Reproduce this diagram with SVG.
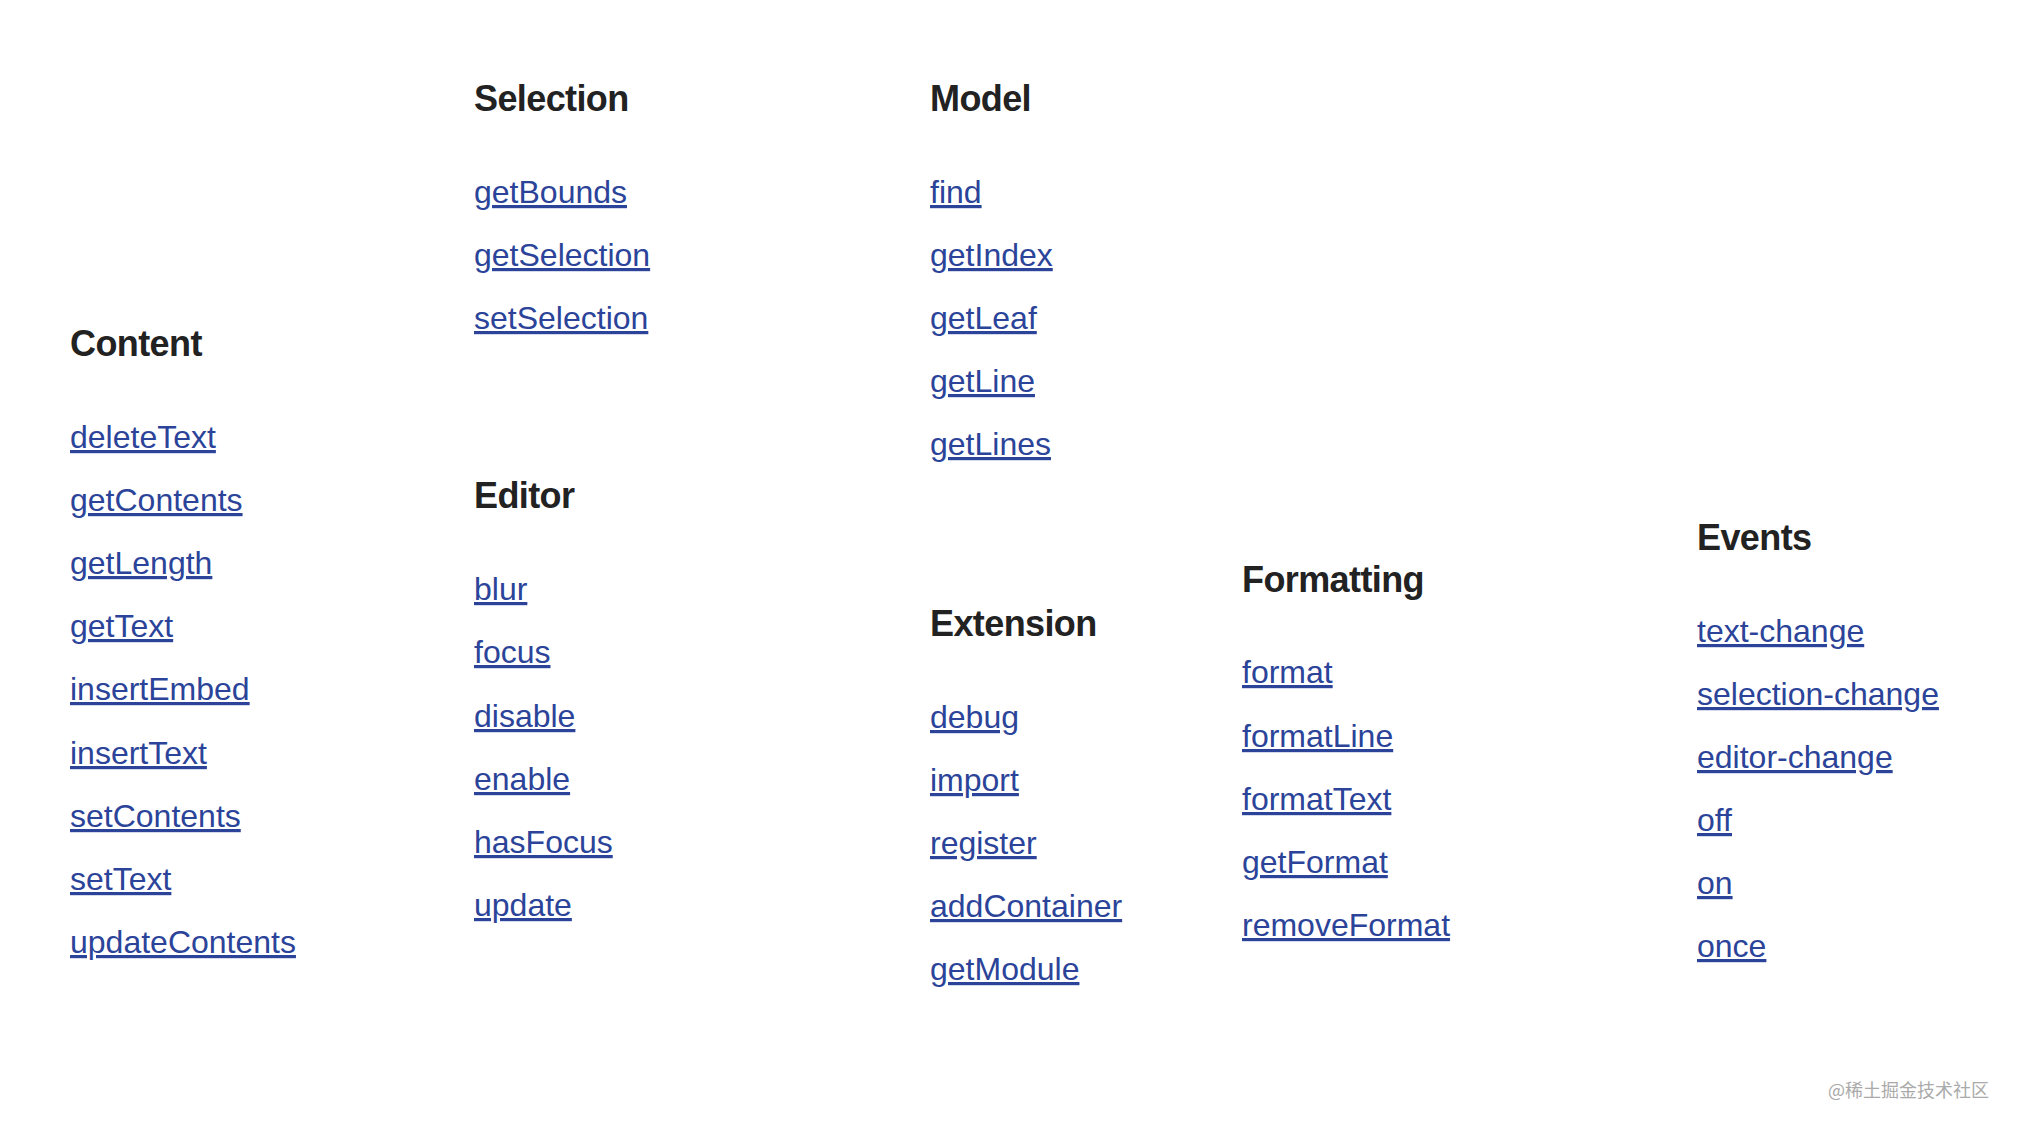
<svg xmlns="http://www.w3.org/2000/svg" width="2018" height="1130" viewBox="0 0 2018 1130">
<style>
.h{font-family:"Liberation Sans",Arial,sans-serif;font-weight:bold;font-size:36px;letter-spacing:-0.6px;fill:#222222}
.l{font-family:"Liberation Sans",Arial,sans-serif;font-size:32px;fill:#2b4499;text-decoration:underline}
.wm{font-family:"Noto Sans CJK SC","Liberation Sans",sans-serif;font-size:18px;fill:#aaaaaa}
</style>
<rect width="2018" height="1130" fill="#ffffff"/>
<g id="content">
<text class="h" x="70" y="356">Content</text>
<text class="l" x="70" y="448">deleteText</text>
<text class="l" x="70" y="511">getContents</text>
<text class="l" x="70" y="574">getLength</text>
<text class="l" x="70" y="637">getText</text>
<text class="l" x="70" y="700">insertEmbed</text>
<text class="l" x="70" y="764">insertText</text>
<text class="l" x="70" y="827">setContents</text>
<text class="l" x="70" y="890">setText</text>
<text class="l" x="70" y="953">updateContents</text>
</g>
<g id="selection">
<text class="h" x="474" y="111">Selection</text>
<text class="l" x="474" y="203">getBounds</text>
<text class="l" x="474" y="266">getSelection</text>
<text class="l" x="474" y="329">setSelection</text>
</g>
<g id="model">
<text class="h" x="930" y="111">Model</text>
<text class="l" x="930" y="203">find</text>
<text class="l" x="930" y="266">getIndex</text>
<text class="l" x="930" y="329">getLeaf</text>
<text class="l" x="930" y="392">getLine</text>
<text class="l" x="930" y="455">getLines</text>
</g>
<g id="editor">
<text class="h" x="474" y="508">Editor</text>
<text class="l" x="474" y="600">blur</text>
<text class="l" x="474" y="663">focus</text>
<text class="l" x="474" y="727">disable</text>
<text class="l" x="474" y="790">enable</text>
<text class="l" x="474" y="853">hasFocus</text>
<text class="l" x="474" y="916">update</text>
</g>
<g id="extension">
<text class="h" x="930" y="636">Extension</text>
<text class="l" x="930" y="728">debug</text>
<text class="l" x="930" y="791">import</text>
<text class="l" x="930" y="854">register</text>
<text class="l" x="930" y="917">addContainer</text>
<text class="l" x="930" y="980">getModule</text>
</g>
<g id="formatting">
<text class="h" x="1242" y="592">Formatting</text>
<text class="l" x="1242" y="683">format</text>
<text class="l" x="1242" y="747">formatLine</text>
<text class="l" x="1242" y="810">formatText</text>
<text class="l" x="1242" y="873">getFormat</text>
<text class="l" x="1242" y="936">removeFormat</text>
</g>
<g id="events">
<text class="h" x="1697" y="550">Events</text>
<text class="l" x="1697" y="642">text-change</text>
<text class="l" x="1697" y="705">selection-change</text>
<text class="l" x="1697" y="768">editor-change</text>
<text class="l" x="1697" y="831">off</text>
<text class="l" x="1697" y="894">on</text>
<text class="l" x="1697" y="957">once</text>
</g>
<g id="connectors"></g>
<text class="wm" x="1828" y="1097">@稀土掘金技术社区</text>
</svg>
